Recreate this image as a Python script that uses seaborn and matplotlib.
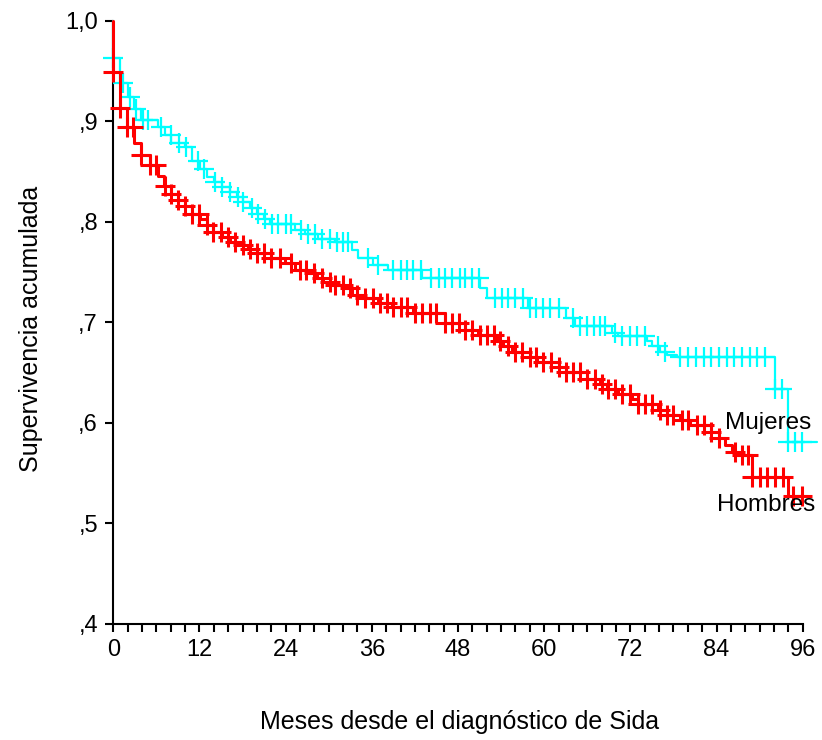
"""
Curvas de supervivencia (Kaplan-Meier) por sexo tras el diagnóstico de Sida.
"""
import numpy as np
import matplotlib
matplotlib.use('Agg')
import matplotlib.pyplot as plt
from matplotlib.ticker import MultipleLocator, FixedLocator
import seaborn as sns

# ------------------------------------------------------- #
#                          DATOS                          #
# ------------------------------------------------------- #
# Mujeres: tiempos de caída (meses) y supervivencia tras la caída
muj_t = [0, 0, 1.0, 2.0, 2.9, 3.9, 6.2, 7.2, 8.1, 10.0, 11.0, 12.1, 13.0, 14.0,
         15.1, 16.3, 17.2, 18.1, 19.0, 20.0, 21.0, 21.8, 25.3, 26.7, 28.5, 30.9,
         33.2, 34.1, 36.2, 38.3, 43.0, 51.1, 52.0, 57.8, 63.1, 64.3, 69.4, 70.3,
         74.3, 75.0, 76.1, 77.1, 78.5, 92.2, 94.0, 98.0]
muj_s = [1.0, 0.963, 0.938, 0.924, 0.912, 0.901, 0.894, 0.886, 0.878, 0.874,
         0.860, 0.853, 0.845, 0.840, 0.835, 0.830, 0.825, 0.820, 0.814, 0.808,
         0.803, 0.798, 0.792, 0.788, 0.783, 0.780, 0.772, 0.764, 0.757, 0.752,
         0.744, 0.734, 0.724, 0.714, 0.704, 0.696, 0.689, 0.686, 0.681, 0.676,
         0.671, 0.668, 0.666, 0.634, 0.581, 0.581]
# Mujeres: casos censurados (meses)
muj_cens = [0, 1.4, 2.3, 3.2, 4.1, 4.9, 6.7, 8.0, 9.2, 10.1, 11.8, 12.7, 14.2,
            15.1, 16.3, 17.4, 18.1, 19.3, 20.2, 21.1, 22.1, 23.0, 24.1, 24.8,
            26.2, 27.1, 28.1, 29.0, 30.2, 31.1, 32.0, 32.7, 35.5, 36.9, 39.0,
            40.0, 40.9, 41.8, 42.8, 44.3, 45.3, 46.2, 47.2, 48.3, 49.0, 49.9,
            50.9, 53.2, 54.1, 55.0, 56.0, 57.1, 58.0, 58.9, 59.9, 60.8, 62.0,
            64.0, 65.0, 65.9, 66.9, 67.8, 68.5, 69.9, 70.8, 72.0, 72.9, 74.1,
            75.9, 76.8, 78.9, 80.0, 81.1, 82.2, 83.2, 84.3, 85.4, 86.5, 87.5,
            88.6, 89.7, 90.8, 92.2, 93.1, 94.0, 94.9, 95.9]

# Hombres: tiempos de caída (meses) y supervivencia tras la caída
hom_t = [0, 0, 1.0, 1.85, 2.9, 3.9, 5.1, 6.2, 7.1, 8.1, 9.0, 10.0, 11.0, 12.1,
         13.0, 13.9, 15.1, 16.3, 17.4, 18.8, 20.0, 22.0, 23.9, 25.3, 27.2, 28.3,
         29.2, 30.4, 32.3, 33.2, 35.0, 36.9, 38.8, 41.8, 46.2, 49.0, 50.8, 53.4,
         54.3, 55.5, 58.0, 59.0, 62.0, 63.1, 65.9, 67.8, 68.7, 70.3, 72.2, 73.1,
         75.9, 77.1, 78.9, 80.3, 83.3, 84.3, 85.2, 86.1, 86.8, 88.9, 94.0, 96.8]
hom_s = [1.0, 0.949, 0.913, 0.894, 0.878, 0.866, 0.856, 0.846, 0.836, 0.828,
         0.822, 0.816, 0.808, 0.803, 0.797, 0.790, 0.785, 0.780, 0.777, 0.773,
         0.769, 0.764, 0.759, 0.752, 0.749, 0.744, 0.740, 0.737, 0.734, 0.727,
         0.724, 0.719, 0.715, 0.709, 0.699, 0.692, 0.687, 0.681, 0.676, 0.671,
         0.666, 0.661, 0.656, 0.651, 0.644, 0.639, 0.634, 0.629, 0.624, 0.619,
         0.613, 0.608, 0.603, 0.598, 0.591, 0.585, 0.578, 0.571, 0.568, 0.546,
         0.527, 0.527]
# Hombres: casos censurados (meses)
hom_cens = [0, 1.0, 1.9, 2.8, 3.9, 5.1, 6.0, 7.2, 8.1, 9.0, 10.0, 11.0, 12.0,
            13.0, 13.9, 15.0, 16.0, 17.0, 18.0, 19.0, 20.0, 21.0, 22.0, 23.2,
            24.8, 26.0, 26.9, 27.9, 29.0, 30.2, 30.9, 32.0, 33.0, 33.9, 35.1,
            36.2, 37.2, 38.1, 39.0, 40.0, 40.9, 42.0, 43.0, 44.1, 45.0, 46.2,
            47.2, 48.1, 49.0, 49.9, 51.1, 52.0, 53.0, 53.9, 55.0, 56.0, 56.9,
            58.0, 58.9, 59.9, 61.0, 62.0, 63.1, 64.0, 65.0, 65.9, 67.1, 68.0,
            68.9, 69.9, 70.8, 72.0, 73.1, 74.1, 75.0, 76.1, 77.1, 78.0, 79.2,
            80.1, 81.3, 82.2, 83.3, 84.3, 86.6, 87.5, 88.4, 89.0, 90.0, 91.0,
            92.2, 93.3, 94.7, 95.9]

y_ticks = [0.4, 0.5, 0.6, 0.7, 0.8, 0.9, 1.0]
y_labels = [',4', ',5', ',6', ',7', ',8', ',9', '1,0']
x_ticks = [0, 12, 24, 36, 48, 60, 72, 84, 96]


def surv_at(times, surv, t):
    # valor de la curva escalonada justo después del tiempo t
    idx = np.searchsorted(np.array(times), np.array(t), side='right') - 1
    return np.array(surv)[idx]


# ------------------------------------------------------- #
#                         GRÁFICO                         #
# ------------------------------------------------------- #
sns.set_style('white')
plt.rcParams['font.family'] = ['Liberation Sans', 'DejaVu Sans']
plt.rcParams['text.color'] = 'black'
plt.rcParams['axes.labelcolor'] = 'black'
plt.rcParams['xtick.color'] = 'black'
plt.rcParams['ytick.color'] = 'black'

fig = plt.figure(figsize=(8.22, 7.4), dpi=100)
ax = fig.add_axes([0.1378, 0.1568, 0.8387, 0.8152])

series = [
    (muj_t, muj_s, muj_cens, '#00FFFF', 1.6),
    (hom_t, hom_s, hom_cens, '#FF0000', 2.2),
]
for t, s, cens, color, lw in series:
    sns.lineplot(x=t, y=s, drawstyle='steps-post', estimator=None, sort=False,
                 color=color, linewidth=lw, ax=ax, clip_on=False, zorder=3)
    sns.scatterplot(x=cens, y=surv_at(t, s, cens), marker='+', s=190,
                    linewidth=lw, color=color, ax=ax, clip_on=False, zorder=3)

ax.text(85.2, 0.600, 'Mujeres', fontsize=17.5, ha='left', va='center')
ax.text(84.1, 0.518, 'Hombres', fontsize=17.5, ha='left', va='center')

ax.set_xlim(0, 96)
ax.set_ylim(0.4, 1.0)
ax.xaxis.set_major_locator(FixedLocator(x_ticks))
ax.xaxis.set_minor_locator(MultipleLocator(2))
ax.set_yticks(y_ticks)
ax.set_yticklabels(y_labels)

for side in ['top', 'right']:
    ax.spines[side].set_visible(False)
for side in ['left', 'bottom']:
    ax.spines[side].set_linewidth(1.5)
    ax.spines[side].set_color('black')

ax.tick_params(axis='both', which='both', direction='out', length=6,
               width=1.5, color='black', labelcolor='black', labelsize=17,
               pad=5, bottom=True, left=True)
ax.tick_params(axis='x', which='minor', length=6)

ax.set_xlabel('Meses desde el diagnóstico de Sida', fontsize=18)
ax.set_ylabel('Supervivencia acumulada', fontsize=18)
ax.xaxis.set_label_coords(0.503, -0.162)
ax.xaxis.label.set_verticalalignment('center')
ax.yaxis.set_label_coords(-0.119, 0.49)
ax.yaxis.label.set_verticalalignment('center')

fig.savefig('out.png', dpi=100)
